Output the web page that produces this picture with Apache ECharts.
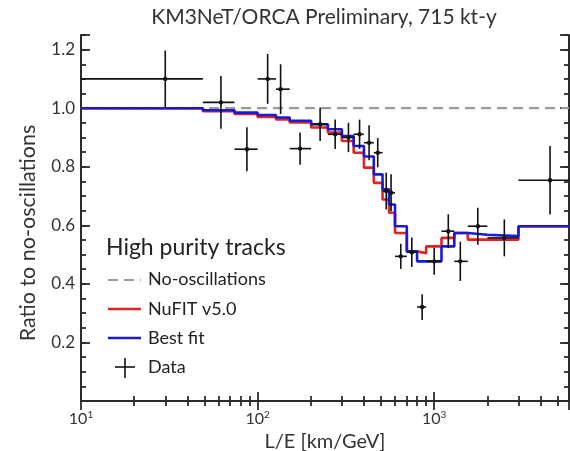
<!DOCTYPE html>
<html>
<head>
<meta charset="utf-8">
<script src="https://cdn.jsdelivr.net/npm/echarts@6/dist/echarts.min.js"></script>
<style>
  html, body { margin: 0; padding: 0; background: #ffffff; }
  #chart { width: 570px; height: 451px; }
</style>
</head>
<body>
<div id="chart"></div>
<script>
// L/E bin edges [km/GeV] shared by the model histograms and the data points
const binEdges = [10, 49, 74, 100, 127, 152, 201, 250, 300, 350, 400, 455, 510, 555,
                  600, 700, 800, 900, 1100, 1300, 1550, 2000, 3000, 5800];

// Expected ratio to no-oscillations, one value per bin
const nufitRatio = [1.000, 0.990, 0.980, 0.970, 0.962, 0.951, 0.934, 0.917, 0.888, 0.848,
                    0.797, 0.745, 0.688, 0.643, 0.574, 0.511, 0.505, 0.528, 0.557, 0.574,
                    0.551, 0.551, 0.597];
const bestFitRatio = [1.000, 0.993, 0.985, 0.977, 0.968, 0.957, 0.945, 0.928, 0.905, 0.871,
                      0.835, 0.774, 0.723, 0.671, 0.597, 0.511, 0.477, 0.477, 0.528, 0.574,
                      0.568, 0.563, 0.597];

// Measured points: L/E position, ratio and vertical uncertainty
const dataLE    = [30, 62, 87, 114, 135, 174, 226, 275, 327, 378, 428, 479, 535, 570,
                   647, 747, 855, 1000, 1202, 1406, 1766, 2496, 4530];
const dataRatio = [1.100, 1.020, 0.860, 1.100, 1.065, 0.862, 0.945, 0.911, 0.900, 0.911,
                   0.882, 0.848, 0.717, 0.711, 0.494, 0.508, 0.321, 0.477, 0.580, 0.477,
                   0.597, 0.557, 0.754];
const dataErr   = [0.097, 0.090, 0.075, 0.085, 0.085, 0.055, 0.057, 0.050, 0.050, 0.050,
                   0.060, 0.050, 0.063, 0.063, 0.043, 0.050, 0.044, 0.046, 0.058, 0.067,
                   0.063, 0.063, 0.117];

// Axis ticks (minor x ticks are placed on a log10 helper axis)
const xMinorTicks = [20, 30, 40, 50, 60, 70, 80, 90, 200, 300, 400, 500, 600, 700, 800, 900,
                     2000, 3000, 4000, 5000];
const xTickExponents = { 10: '1', 100: '2', 1000: '3' };
const yTickLabels = { '0.2': '0.2', '0.4': '0.4', '0.6': '0.6', '0.8': '0.8', '1.0': '1.0', '1.2': '1.2' };

const FONT = 'Lato, "Open Sans", sans-serif';
const FRAME = '#2b2b2b';
const TICK = '#2b2b2b';
const TEXT = '#333333';
const X_MIN = 10, X_MAX = 5800, Y_MIN = 0, Y_MAX = 1.25;

function stepPoints(values) {
  const pts = values.map((v, i) => [binEdges[i], v]);
  pts.push([binEdges[binEdges.length - 1], values[values.length - 1]]);
  return pts;
}

const chart = echarts.init(document.getElementById('chart'), null, { renderer: 'canvas' });

const gridRect = { left: 81, right: 1, top: 35, bottom: 50, outerBoundsMode: 'none' };

function majorX(position, withLabels) {
  const ax = {
    type: 'log', logBase: 10, min: X_MIN, max: X_MAX, gridIndex: 0, position: position,
    splitLine: { show: false },
    axisLine: { show: true, lineStyle: { color: FRAME, width: 2 } },
    axisTick: { show: true, inside: true, length: 9, lineStyle: { color: TICK, width: 1.8 } },
    axisLabel: { show: false }
  };
  if (withLabels) {
    ax.name = 'L/E [km/GeV]';
    ax.nameLocation = 'middle';
    ax.nameGap = 26;
    ax.nameTextStyle = { fontFamily: FONT, fontSize: 20, color: TEXT };
    ax.axisLabel = {
      show: true, margin: 9,
      formatter: function (v) {
        const e = xTickExponents[Math.round(v)];
        return e ? '{b|10}{s|' + e + '}' : '';
      },
      rich: {
        b: { fontFamily: FONT, fontSize: 16, color: TEXT },
        s: { fontFamily: FONT, fontSize: 10, color: TEXT, verticalAlign: 'top', padding: [0, 0, 8, 0] }
      }
    };
  }
  return ax;
}
function minorX(position) {
  return {
    type: 'value', min: 1, max: Math.log10(X_MAX), gridIndex: 1, position: position,
    splitLine: { show: false },
    axisLine: { show: false },
    axisTick: { show: true, inside: true, length: 5, lineStyle: { color: TICK, width: 1.8 },
                customValues: xMinorTicks.map(v => Math.log10(v)) },
    axisLabel: { show: false }
  };
}
function yAx(grid, position, interval, len, withLabels) {
  const ax = {
    type: 'value', min: Y_MIN, max: Y_MAX, interval: interval, gridIndex: grid, position: position,
    splitLine: { show: false },
    axisLine: { show: grid === 0, lineStyle: { color: FRAME, width: 2 } },
    axisTick: { show: true, inside: true, length: len, lineStyle: { color: TICK, width: 1.8 } },
    axisLabel: { show: false }
  };
  if (withLabels) {
    ax.name = 'Ratio to no-oscillations';
    ax.nameLocation = 'middle';
    ax.nameGap = 42;
    ax.nameRotate = 90;
    ax.nameTextStyle = { fontFamily: FONT, fontSize: 21.5, color: TEXT, padding: [0, 30, 0, 0] };
    ax.axisLabel = {
      show: true, margin: 6, fontFamily: FONT, fontSize: 17, color: TEXT,
      formatter: function (v) {
        const onMajor = Math.abs(v * 5 - Math.round(v * 5)) < 1e-6;
        return onMajor && yTickLabels[v.toFixed(1)] ? yTickLabels[v.toFixed(1)] : '';
      }
    };
  }
  return ax;
}

const option = {
  backgroundColor: '#ffffff',
  animation: false,
  grid: [Object.assign({}, gridRect), Object.assign({}, gridRect)],
  xAxis: [majorX('bottom', true), majorX('top', false), minorX('bottom'), minorX('top')],
  yAxis: [
    yAx(0, 'left', 0.2, 9, true),
    yAx(0, 'right', 0.2, 9, false),
    yAx(1, 'left', 0.05, 5, false),
    yAx(1, 'right', 0.05, 5, false)
  ],
  series: [
    {
      name: 'No-oscillations', type: 'line', xAxisIndex: 0, yAxisIndex: 0,
      data: [[X_MIN, 1.0], [X_MAX, 1.0]],
      symbol: 'none', silent: true, z: 1,
      lineStyle: { color: '#9a9a9a', width: 2.2, type: [10, 6] }
    },
    {
      name: 'NuFIT v5.0', type: 'line', xAxisIndex: 0, yAxisIndex: 0,
      data: stepPoints(nufitRatio), step: 'end',
      symbol: 'none', silent: true, z: 2,
      lineStyle: { color: '#e02424', width: 2.6 }
    },
    {
      name: 'Best fit', type: 'line', xAxisIndex: 0, yAxisIndex: 0,
      data: stepPoints(bestFitRatio), step: 'end',
      symbol: 'none', silent: true, z: 3,
      lineStyle: { color: '#1a1ad6', width: 2.6 }
    },
    {
      name: 'Data', type: 'custom', xAxisIndex: 0, yAxisIndex: 0, z: 4, silent: true,
      data: dataLE.map((x, i) => [x, dataRatio[i], binEdges[i], binEdges[i + 1], dataErr[i]]),
      encode: { x: 0, y: 1 },
      renderItem: function (params, api) {
        const x = api.value(0), y = api.value(1);
        const lo = api.value(2), hi = api.value(3), e = api.value(4);
        const c = api.coord([x, y]);
        const l = api.coord([lo, y]);
        const h = api.coord([hi, y]);
        const t = api.coord([x, y + e]);
        const b = api.coord([x, y - e]);
        const st = { stroke: '#111111', lineWidth: 1.6 };
        return {
          type: 'group',
          children: [
            { type: 'line', shape: { x1: l[0], y1: c[1], x2: h[0], y2: c[1] }, style: st },
            { type: 'line', shape: { x1: c[0], y1: t[1], x2: c[0], y2: b[1] }, style: st },
            { type: 'circle', shape: { cx: c[0], cy: c[1], r: 2.2 }, style: { fill: '#111111' } }
          ]
        };
      }
    }
  ],
  graphic: [
    { type: 'text', x: 324, y: 17,
      style: { text: 'KM3NeT/ORCA Preliminary, 715 kt-y', fontFamily: FONT, fontSize: 21,
               fill: TEXT, align: 'center', verticalAlign: 'middle' } },
    { type: 'text', x: 106, y: 248,
      style: { text: 'High purity tracks', fontFamily: FONT, fontSize: 23, fill: '#222222', verticalAlign: 'middle' } },
    { type: 'line', shape: { x1: 108, y1: 280, x2: 141, y2: 280 },
      style: { stroke: '#9a9a9a', lineWidth: 2.2, lineDash: [10, 6] } },
    { type: 'text', x: 148, y: 279,
      style: { text: 'No-oscillations', fontFamily: FONT, fontSize: 18, fill: '#222222', verticalAlign: 'middle' } },
    { type: 'line', shape: { x1: 108, y1: 309, x2: 141, y2: 309 },
      style: { stroke: '#e02424', lineWidth: 2.6 } },
    { type: 'text', x: 148, y: 309,
      style: { text: 'NuFIT v5.0', fontFamily: FONT, fontSize: 18, fill: '#222222', verticalAlign: 'middle' } },
    { type: 'line', shape: { x1: 108, y1: 338, x2: 141, y2: 338 },
      style: { stroke: '#1a1ad6', lineWidth: 2.6 } },
    { type: 'text', x: 148, y: 338,
      style: { text: 'Best fit', fontFamily: FONT, fontSize: 18, fill: '#222222', verticalAlign: 'middle' } },
    { type: 'line', shape: { x1: 115, y1: 367, x2: 135, y2: 367 },
      style: { stroke: '#111111', lineWidth: 1.6 } },
    { type: 'line', shape: { x1: 125, y1: 358, x2: 125, y2: 378 },
      style: { stroke: '#111111', lineWidth: 1.6 } },
    { type: 'text', x: 148, y: 367,
      style: { text: 'Data', fontFamily: FONT, fontSize: 18, fill: '#222222', verticalAlign: 'middle' } }
  ]
};

chart.setOption(option);
</script>
</body>
</html>
